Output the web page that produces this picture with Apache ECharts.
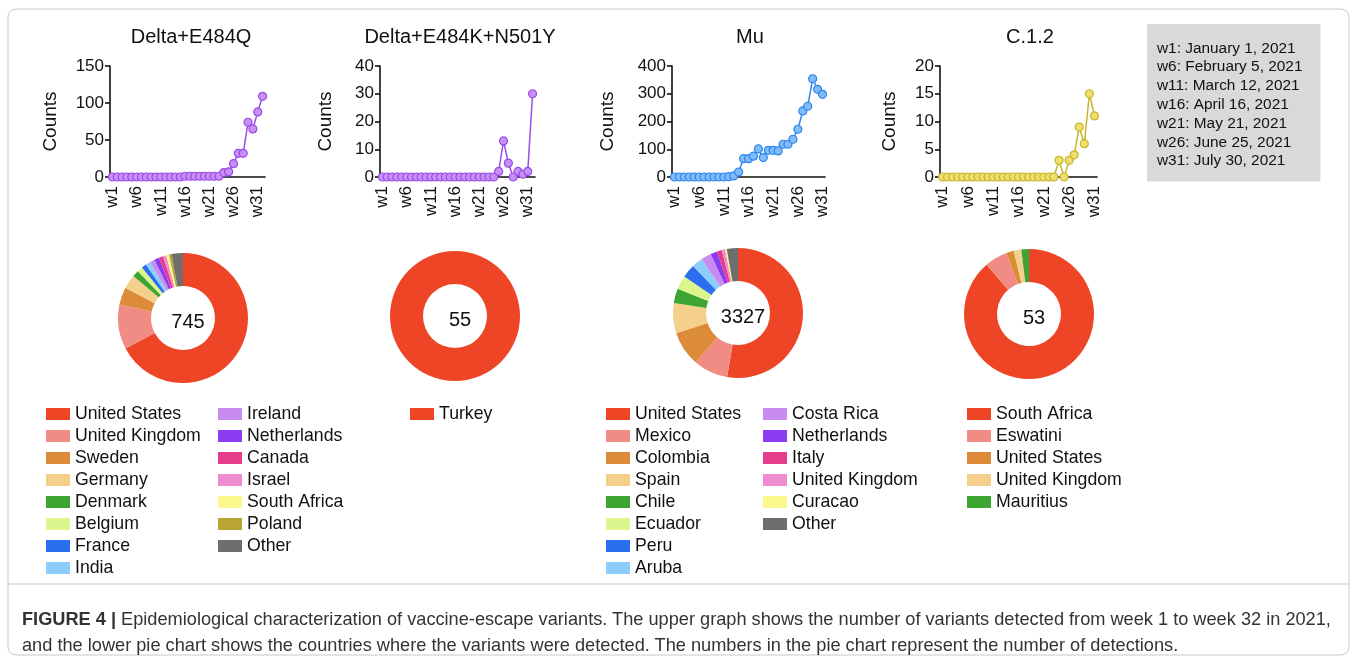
<!DOCTYPE html>
<html lang="en">
<head>
    <meta charset="UTF-8">
    <title>Figure 4</title>
    <script src="https://cdn.jsdelivr.net/npm/echarts@6/dist/echarts.min.js"></script>
    <style>
        body { margin: 0; background: #fff; }
        #wrap { position: relative; width: 1357px; height: 664px; }
        #main { position: absolute; left: 0; top: 0; width: 1357px; height: 664px; }
        #caption {
            position: absolute; left: 22px; top: 606px;
            font-family: 'Liberation Sans', Arial, sans-serif;
            font-size: 18.2px; line-height: 26px; color: #333; white-space: nowrap;
        }
    </style>
</head>
<body>
<div id="wrap">
    <div id="main"></div>
    <div id="caption"><b>FIGURE 4 |</b> Epidemiological characterization of vaccine-escape variants. The upper graph shows the number of variants detected from week 1 to week 32 in 2021,<br>and the lower pie chart shows the countries where the variants were detected. The numbers in the pie chart represent the number of detections.</div>
</div>

<script>
    // week tick labels
    var weeks = ['w1','w2','w3','w4','w5','w6','w7','w8','w9','w10','w11','w12','w13','w14','w15','w16',
        'w17','w18','w19','w20','w21','w22','w23','w24','w25','w26','w27','w28','w29','w30','w31','w32'];

    // weekly counts
    var deltaE484Q = [0,0,0,0,0,0,0,0,0,0,0,0,0,0,0,1,1,1,1,1,1,1,1,6,7,18,32,32,74,65,88,109];
    var deltaE484KN501Y = [0,0,0,0,0,0,0,0,0,0,0,0,0,0,0,0,0,0,0,0,0,0,0,0,2,13,5,0,2,1,2,30];
    var mu = [0,0,0,0,0,0,0,0,0,0,0,1,4,18,66,66,75,101,70,96,96,94,118,118,136,172,238,255,354,316,298];
    var c12 = [0,0,0,0,0,0,0,0,0,0,0,0,0,0,0,0,0,0,0,0,0,0,0,3,0,3,4,9,6,15,11];

    // countries per variant
    var q484Names = ['United States','United Kingdom','Sweden','Germany','Denmark','Belgium','France','India',
        'Ireland','Netherlands','Canada','Israel','South Africa','Poland','Other'];
    var q484Values = [501,82,33,26,12,10,9,9,9,9,8,6,5,5,21];

    var k484Names = ['Turkey'];
    var k484Values = [55];

    var muNames = ['United States','Mexico','Colombia','Spain','Chile','Ecuador','Peru','Aruba',
        'Costa Rica','Netherlands','Italy','United Kingdom','Curacao','Other'];
    var muValues = [1753,287,287,250,120,115,111,90,85,55,40,28,14,92];

    var c12Names = ['South Africa','Eswatini','United States','United Kingdom','Mauritius'];
    var c12Values = [47,3,1,1,1];

    var palette = ['#EE4527','#F08C84','#DC8C38','#F5D08C','#3DA532','#DCF58C','#2C6EF0','#8CCDFA',
        '#C88CF0','#8C3CF0','#E63C8C','#F08CD2','#FAF88C','#B9A532','#6E6E6E'];
    var muPalette = palette.slice(0, 8).concat(['#C88CF0','#8C3CF0','#E63C8C','#F08CD2','#FAF88C','#6E6E6E']);

    var font = "'Liberation Sans', Arial, sans-serif";

    var myChart = echarts.init(document.getElementById('main'));

    function sum(a) { return a.reduce(function (s, v) { return s + v; }, 0); }

    // one small line chart per variant
    var panels = [
        {title: 'Delta+E484Q', data: deltaE484Q, n: 32, left: 110, width: 155, max: 150, interval: 50, gap: 50, line: '#9A4BE8', fill: '#C890F5', cx: 186},
        {title: 'Delta+E484K+N501Y', data: deltaE484KN501Y, n: 32, left: 380, width: 155, max: 40, interval: 10, gap: 45, line: '#9A4BE8', fill: '#C890F5', cx: 455},
        {title: 'Mu', data: mu, n: 31, left: 672, width: 153, max: 400, interval: 100, gap: 55, line: '#2F86EE', fill: '#82BCF8', cx: 745},
        {title: 'C.1.2', data: c12, n: 31, left: 940, width: 157, max: 20, interval: 5, gap: 41, line: '#C8B52C', fill: '#EEE06E', cx: 1025}
    ];

    var titles = [], grids = [], xAxes = [], yAxes = [], series = [];
    panels.forEach(function (p, i) {
        titles.push({text: p.title, left: p.cx, top: 22, textAlign: 'center',
            textStyle: {fontSize: 20, fontWeight: 'normal', color: '#111', fontFamily: font}});
        grids.push({left: p.left, top: 66, width: p.width, height: 111});
        xAxes.push({
            type: 'category', gridIndex: i, data: weeks.slice(0, p.n), boundaryGap: true,
            axisLine: {lineStyle: {color: '#111', width: 1.6}},
            axisTick: {interval: 4, alignWithLabel: true, length: 5, lineStyle: {color: '#111', width: 1.6}},
            axisLabel: {interval: 4, rotate: 90, margin: 9, fontSize: 17, color: '#111', fontFamily: font}
        });
        yAxes.push({
            type: 'value', gridIndex: i, min: 0, max: p.max, interval: p.interval,
            name: 'Counts', nameLocation: 'middle', nameGap: p.gap,
            nameTextStyle: {fontSize: 19, color: '#111', fontFamily: font},
            axisLine: {show: true, lineStyle: {color: '#111', width: 1.6}},
            axisTick: {show: true, length: 5, lineStyle: {color: '#111', width: 1.6}},
            axisLabel: {fontSize: 17, color: '#111', margin: 6, fontFamily: font},
            splitLine: {show: false}
        });
        series.push({
            name: p.title, type: 'line', xAxisIndex: i, yAxisIndex: i, data: p.data,
            symbol: 'circle', symbolSize: 8, showAllSymbol: true, silent: true,
            lineStyle: {color: p.line, width: 1.5},
            itemStyle: {color: p.fill, borderColor: p.line, borderWidth: 1.2}
        });
    });

    // donut charts
    var pies = [
        {names: q484Names, values: q484Values, colors: palette, cx: 183, cy: 318},
        {names: k484Names, values: k484Values, colors: palette, cx: 455, cy: 316},
        {names: muNames, values: muValues, colors: muPalette, cx: 738, cy: 313},
        {names: c12Names, values: c12Values, colors: palette, cx: 1029, cy: 314}
    ];
    pies.forEach(function (p) {
        series.push({
            type: 'pie', center: [p.cx, p.cy], radius: [32, 65], startAngle: 90, clockwise: true,
            label: {show: false}, labelLine: {show: false}, silent: true,
            emphasis: {disabled: true},
            data: p.names.map(function (n, k) {
                return {name: n, value: p.values[k], itemStyle: {color: p.colors[k]}};
            })
        });
        titles.push({text: String(sum(p.values)), left: p.cx, top: p.cy - 11, textAlign: 'center',
            textStyle: {fontSize: 20, fontWeight: 'normal', color: '#111', fontFamily: font}});
    });

    // week date key
    titles.push({
        text: 'w1: January 1, 2021\nw6: February 5, 2021\nw11: March 12, 2021\nw16: April 16, 2021\nw21: May 21, 2021\nw26: June 25, 2021\nw31: July 30, 2021',
        left: 1147, top: 24, backgroundColor: '#D9D9D9', padding: [15, 18, 11, 10],
        textStyle: {fontSize: 15.4, lineHeight: 18.8, fontWeight: 'normal', color: '#111', fontFamily: font}
    });

    function legendCol(names, colors, left) {
        return {
            orient: 'vertical', left: left, top: 405, padding: 0, icon: 'rect',
            itemWidth: 24, itemHeight: 12, itemGap: 4, selectedMode: false,
            textStyle: {fontSize: 17.7, lineHeight: 18, color: '#111', fontFamily: font},
            data: names.map(function (n, k) { return {name: n, itemStyle: {color: colors[k]}}; })
        };
    }

    var option = {
        backgroundColor: '#fff',
        animation: false,
        title: titles,
        grid: grids,
        xAxis: xAxes,
        yAxis: yAxes,
        legend: [
            legendCol(q484Names.slice(0, 8), palette.slice(0, 8), 46),
            legendCol(q484Names.slice(8), palette.slice(8), 218),
            legendCol(k484Names, palette, 410),
            legendCol(muNames.slice(0, 8), muPalette.slice(0, 8), 606),
            legendCol(muNames.slice(8), muPalette.slice(8), 763),
            legendCol(c12Names, palette, 967)
        ],
        graphic: [
            {type: 'rect', shape: {x: 8, y: 9, width: 1341, height: 646, r: 8}, style: {fill: 'none', stroke: '#C8C8C8', lineWidth: 1}},
            {type: 'line', shape: {x1: 8, y1: 584, x2: 1349, y2: 584}, style: {stroke: '#C8C8C8', lineWidth: 1}}
        ],
        series: series
    };

    myChart.setOption(option);
</script>
</body>
</html>
